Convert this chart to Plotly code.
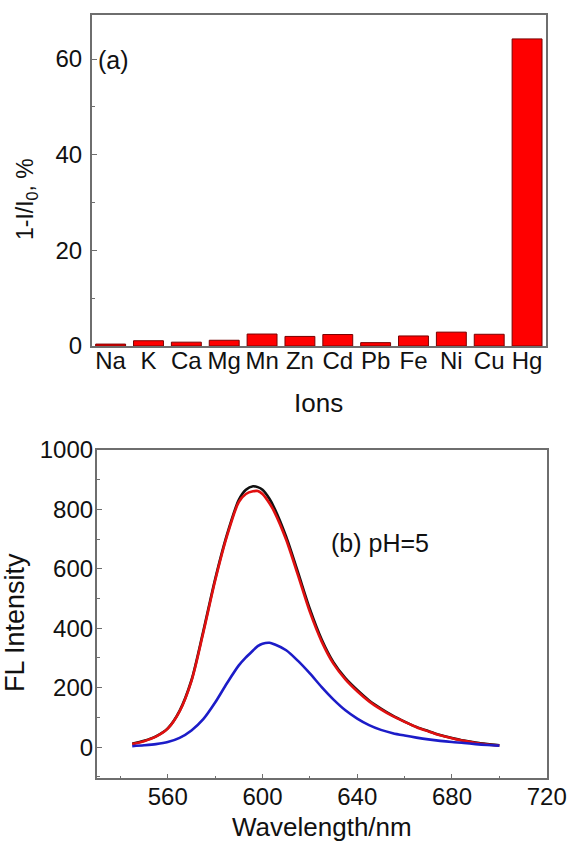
import plotly.graph_objects as go

# ---------------- data ----------------
ions = ["Na", "K", "Ca", "Mg", "Mn", "Zn", "Cd", "Pb", "Fe", "Ni", "Cu", "Hg"]
quench = [0.4, 1.1, 0.8, 1.2, 2.5, 2.0, 2.4, 0.7, 2.1, 2.9, 2.45, 64.2]

wavelength = [545, 550, 555, 560, 565, 570, 575, 580, 585, 590, 593, 596, 598,
              600, 603, 605, 610, 615, 620, 625, 630, 635, 640, 645, 650, 655,
              660, 665, 670, 675, 680, 685, 690, 695, 700]
fl_black = [11, 21, 36, 63, 122, 225, 390, 565, 715, 832, 866, 878, 875,
            866, 835, 805, 708, 588, 465, 362, 285, 232, 192, 157, 130, 106,
            86, 68, 54, 41, 31, 22, 15, 10, 6]
fl_red = [10, 20, 35, 62, 120, 222, 385, 560, 710, 825, 852, 861, 862,
          852, 820, 792, 698, 578, 455, 355, 280, 228, 188, 154, 127, 104,
          85, 67, 53, 40, 30, 21, 14, 9, 5]
fl_blue = [3, 6, 10, 17, 31, 56, 94, 150, 215, 275, 302, 325, 340,
           348, 351, 346, 326, 290, 248, 202, 160, 124, 96, 74, 58, 47,
           39, 32, 26, 21, 17, 14, 10, 7, 5]

W, H = 570, 843
FONT = "Liberation Sans, Arial, sans-serif"
FRAME = "#6e6e6e"
TXT = "#111111"


def px(x):
    return x / W


def py(y):
    return 1 - y / H


fig = go.Figure()

fig.add_trace(go.Bar(
    x=ions, y=quench, width=0.79,
    marker=dict(color="#ff0000", line=dict(color="#7a0000", width=1)),
    xaxis="x", yaxis="y", showlegend=False,
))

for vals, col in [(fl_black, "#111111"), (fl_red, "#e01010"), (fl_blue, "#1c1cc8")]:
    fig.add_trace(go.Scatter(
        x=wavelength, y=vals, mode="lines",
        line=dict(color=col, width=2.6, shape="spline", smoothing=0.8),
        xaxis="x2", yaxis="y2", showlegend=False,
    ))

axis_common = dict(
    showline=True, linecolor=FRAME, linewidth=1.6, mirror=True,
    showgrid=False, zeroline=False, automargin=False,
    tickfont=dict(family=FONT, size=24, color=TXT),
)

fig.update_layout(
    width=W, height=H,
    margin=dict(l=0, r=0, t=0, b=0, autoexpand=False),
    paper_bgcolor="white", plot_bgcolor="white",
    xaxis=dict(
        **axis_common,
        domain=[px(91.7), px(546)], anchor="y",
        range=[-0.5, 11.5], ticks="", ticklen=0, ticklabelstandoff=-8,
    ),
    yaxis=dict(
        **axis_common,
        domain=[py(346), py(15)], anchor="x",
        range=[0, 69.2], tickvals=[0, 20, 40, 60],
        ticks="inside", ticklen=5, tickcolor=FRAME, tickwidth=1.2,
        minor=dict(ticks="inside", ticklen=3, tickcolor=FRAME, dtick=10, tick0=0),
        ticklabelstandoff=3,
    ),
    xaxis2=dict(
        **axis_common,
        domain=[px(96.7), px(546.7)], anchor="y2",
        range=[530, 720], tickvals=[560, 600, 640, 680, 720],
        ticks="inside", ticklen=5, tickcolor=FRAME, tickwidth=1.2,
        minor=dict(ticks="inside", ticklen=3, tickcolor=FRAME, dtick=20, tick0=540),
        ticklabelstandoff=-4,
    ),
    yaxis2=dict(
        **axis_common,
        domain=[py(778.3), py(450)], anchor="x2",
        range=[-105, 1000], tickvals=[0, 200, 400, 600, 800, 1000],
        ticks="inside", ticklen=5, tickcolor=FRAME, tickwidth=1.2,
        minor=dict(ticks="inside", ticklen=3, tickcolor=FRAME, dtick=100, tick0=0),
        ticklabelstandoff=-3,
    ),
    annotations=[
        dict(text="Ions", x=px(318), y=py(403), xref="paper", yref="paper",
             showarrow=False, xanchor="center", yanchor="middle",
             font=dict(family=FONT, size=26, color=TXT)),
        dict(text="Wavelength/nm", x=px(322), y=py(827), xref="paper", yref="paper",
             showarrow=False, xanchor="center", yanchor="middle",
             font=dict(family=FONT, size=26, color=TXT)),
        dict(text="1-I/I<sub>0</sub>, %", x=px(26), y=py(199), xref="paper", yref="paper",
             textangle=-90, showarrow=False, xanchor="center", yanchor="middle",
             font=dict(family=FONT, size=23, color=TXT)),
        dict(text="FL Intensity", x=px(15), y=py(623), xref="paper", yref="paper",
             textangle=-90, showarrow=False, xanchor="center", yanchor="middle",
             font=dict(family=FONT, size=27, color=TXT)),
        dict(text="(a)", x=px(96), y=py(60), xref="paper", yref="paper",
             showarrow=False, xanchor="left", yanchor="middle",
             font=dict(family=FONT, size=25, color=TXT)),
        dict(text="(b) pH=5", x=px(329), y=py(543), xref="paper", yref="paper",
             showarrow=False, xanchor="left", yanchor="middle",
             font=dict(family=FONT, size=25, color=TXT)),
    ],
)

fig.write_html(
    "out.html",
    config={"displayModeBar": False},
    post_script="document.body.style.margin='0';document.body.style.overflow='hidden';",
)
